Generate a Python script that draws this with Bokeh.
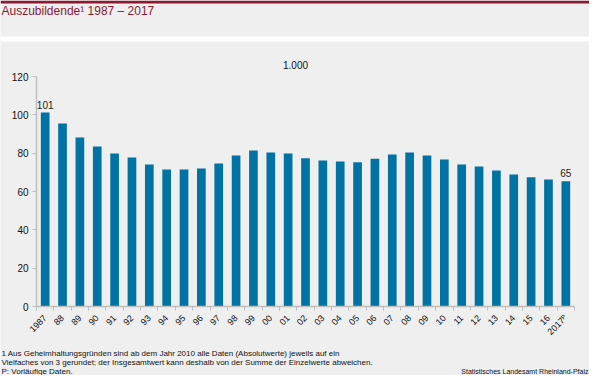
import numpy as np
from bokeh.plotting import figure
from bokeh.models import ColumnDataSource, Label, FixedTicker, Range1d, BoxAnnotation
from bokeh.embed import file_html
from bokeh.resources import INLINE
from bokeh.core.properties import value

# ---- data ----
year_labels = ["1987", "88", "89", "90", "91", "92", "93", "94", "95", "96",
               "97", "98", "99", "00", "01", "02", "03", "04", "05", "06",
               "07", "08", "09", "10", "11", "12", "13", "14", "15", "16",
               "2017ᴾ"]
auszubildende = [101.2, 95.5, 88.2, 83.5, 79.8, 77.8, 74.1, 71.5, 71.5, 72.0,
                 74.6, 78.8, 81.4, 80.4, 79.8, 77.3, 76.2, 75.7, 75.2, 77.1,
                 79.3, 80.4, 78.8, 76.7, 74.1, 73.1, 71.0, 68.9, 67.4, 66.3,
                 65.4]
y_ticks = [0, 20, 40, 60, 80, 100, 120]
labelled_idx = [0, 30]

title_text = "Auszubildende¹ 1987 – 2017"
unit_text = "1.000"
foot_lines = [
    "1  Aus Geheimhaltungsgründen sind ab dem Jahr 2010 alle Daten (Absolutwerte) jeweils auf ein",
    "Vielfaches von 3 gerundet; der Insgesamtwert kann deshalb von der Summe der Einzelwerte abweichen.",
    "P: Vorläufige Daten.",
]
source_text = "Statistisches Landesamt Rheinland-Pfalz"

# ---- style / geometry ----
BG = "#EEEFEE"
RED = "#8C1A33"
BAR = "#0072A3"
AXIS = "#BEBEBE"
FONT = "Liberation Sans"

W, H = 589, 375
PL, PR = 36, 574      # chart area left/right (px from left)
PT, PB = 76, 306      # chart area top/bottom (px from top)

n = len(year_labels)
ymax = 120
xs = [i + 0.5 for i in range(n)]
src = ColumnDataSource(dict(x=xs, top=auszubildende))

# ranges so that the data area maps to the chart rectangle while the frame fills the canvas
xpx = (PR - PL) / n
ypx = (PB - PT) / ymax
x_range = Range1d(-PL / xpx, n + (W - PR) / xpx)
y_range = Range1d(-(H - PB) / ypx, ymax + PT / ypx)

p = figure(width=W, height=H, output_backend="svg", toolbar_location=None,
           x_range=x_range, y_range=y_range,
           min_border_left=0, min_border_right=0, min_border_top=0, min_border_bottom=0)
p.background_fill_color = BG
p.border_fill_color = BG
p.outline_line_color = None
p.grid.visible = False

# header decorations
p.add_layout(BoxAnnotation(left=0, right=W, bottom=H - 3, top=H,
                           left_units="screen", right_units="screen",
                           bottom_units="screen", top_units="screen",
                           fill_color=RED, fill_alpha=1, line_color=None))
p.add_layout(BoxAnnotation(left=0, right=W, bottom=H - 41, top=H - 36,
                           left_units="screen", right_units="screen",
                           bottom_units="screen", top_units="screen",
                           fill_color="white", fill_alpha=1, line_color=None))
p.add_layout(Label(x=1, y=H - 10, x_units="screen", y_units="screen", text=title_text,
                   text_font=FONT, text_font_size="12px", text_color=RED,
                   text_baseline="middle", text_align="left"))

# bars
p.vbar(x="x", top="top", width=0.5, source=src, fill_color=BAR, line_color=None)

lab_x = [xs[i] for i in labelled_idx]
lab_y = [auszubildende[i] for i in labelled_idx]
lab_t = [f"{auszubildende[i]:.0f}" for i in labelled_idx]
p.text(x=lab_x, y=lab_y, text=lab_t, y_offset=-4, text_align="center",
       text_baseline="bottom", text_font=value(FONT), text_font_size="10px",
       text_color="#222222")

# y axis
ya = p.yaxis[0]
ya.fixed_location = 0
ya.bounds = (0, ymax)
ya.ticker = FixedTicker(ticks=y_ticks)
ya.axis_line_color = AXIS
ya.axis_line_width = 1.5
ya.major_tick_line_color = AXIS
ya.major_tick_in = 0
ya.major_tick_out = 4
ya.minor_tick_line_color = None
ya.major_label_text_font = FONT
ya.major_label_text_font_size = "10px"
ya.major_label_text_color = "#111111"
ya.major_label_standoff = 4

# x axis
xa = p.xaxis[0]
xa.fixed_location = 0
xa.bounds = (0, n)
xa.ticker = FixedTicker(ticks=xs, minor_ticks=list(range(n + 1)))
xa.major_label_overrides = {x: lab for x, lab in zip(xs, year_labels)}
xa.axis_line_color = AXIS
xa.axis_line_width = 1.5
xa.major_tick_line_color = None
xa.minor_tick_line_color = AXIS
xa.minor_tick_in = 0
xa.minor_tick_out = 4
xa.major_label_orientation = np.pi / 4
xa.major_label_text_font = FONT
xa.major_label_text_font_size = "9px"
xa.major_label_text_color = "#111111"
xa.major_label_standoff = 4

# unit label
p.add_layout(Label(x=295, y=H - 64, x_units="screen", y_units="screen", text=unit_text,
                   text_font=FONT, text_font_size="10px", text_color="#111111",
                   text_align="center", text_baseline="middle"))

# footnotes
for k, line in enumerate(foot_lines):
    p.add_layout(Label(x=1, y=22 - 9 * k, x_units="screen", y_units="screen",
                       text=line, text_font=FONT, text_font_size="8px",
                       text_color="#111111", text_align="left", text_baseline="middle"))
p.add_layout(Label(x=W - 1, y=4, x_units="screen", y_units="screen", text=source_text,
                   text_font=FONT, text_font_size="7px", text_color="#111111",
                   text_align="right", text_baseline="middle"))

open("out.html", "w").write(file_html(p, INLINE))
